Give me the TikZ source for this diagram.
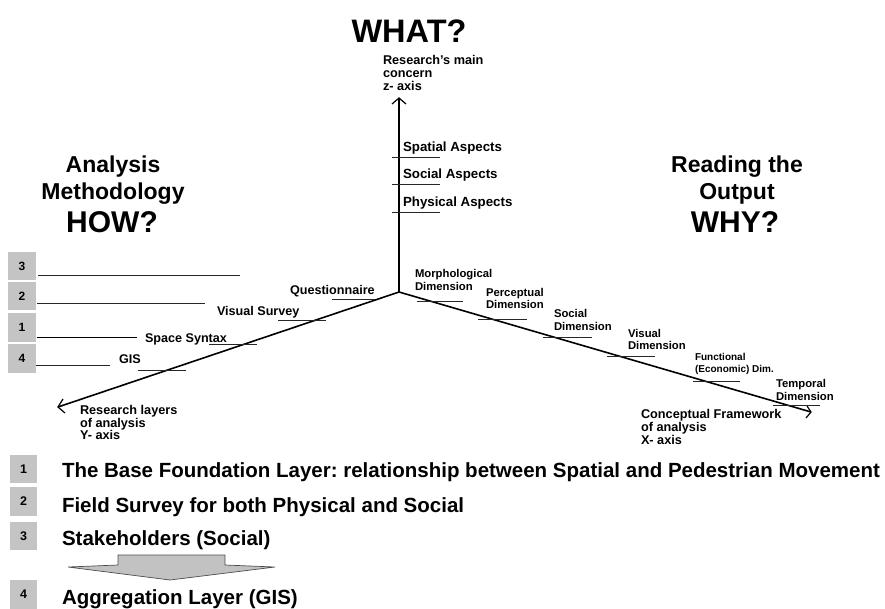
\documentclass[tikz,border=0pt]{standalone}
\usepackage{fontspec}
\setmainfont{Liberation Sans}
\frenchspacing
\definecolor{boxgray}{HTML}{C4C4C4}
\definecolor{arrowgray}{HTML}{C2C2C2}
\begin{document}
\begin{tikzpicture}[x=1pt,y=-1pt,
  every node/.style={inner sep=0pt, outer sep=0pt},
  hd/.style={font=\bfseries\fontsize{23}{25}\selectfont, anchor=base},
  big/.style={font=\bfseries\fontsize{30}{32}\selectfont, anchor=base},
  zl/.style={font=\bfseries\fontsize{13.3}{14}\selectfont, anchor=base west},
  yl/.style={font=\bfseries\fontsize{12.6}{13}\selectfont, anchor=base west},
  xl/.style={font=\bfseries\fontsize{11.3}{12.8}\selectfont, anchor=west, align=left},
  xs/.style={font=\bfseries\fontsize{10}{12.8}\selectfont, anchor=west, align=left},
  axl/.style={font=\bfseries\fontsize{12.7}{12.6}\selectfont, anchor=west, align=left},
  axisline/.style={line width=1.6pt},
  hook/.style={line width=1.2pt},
  tick/.style={line width=0.8pt, black!85},
  numbox/.style={fill=boxgray, minimum width=28pt, minimum height=28.5pt, font=\bfseries\fontsize{12}{12}\selectfont},
  legbox/.style={fill=boxgray, minimum width=27pt, minimum height=28.5pt, font=\bfseries\fontsize{12.5}{12.5}\selectfont},
  legend/.style={font=\bfseries\fontsize{20.5}{22}\selectfont, anchor=base west},
]
\useasboundingbox (0,0) rectangle (885,608);

% headings
\node[big, font=\bfseries\fontsize{32.5}{34}\selectfont] (what) at (409,42) {WHAT?};
\node[hd] (h1) at (113,172) {Analysis};
\node[hd] (h2) at (113,199) {Methodology};
\node[big] (how) at (112,232) {HOW?};
\node[hd] (r1) at (737,172) {Reading the};
\node[hd] (r2) at (737,199) {Output};
\node[big] (why) at (735,232) {WHY?};

% axes
\coordinate (O) at (399,292);
\coordinate (Zend) at (399,98);
\coordinate (Yend) at (58,407);
\coordinate (Xend) at (811,412);
\draw[axisline] (O) -- (Zend);
\draw[axisline] (O) -- (Yend);
\draw[axisline] (O) -- (Xend);
\draw[hook] (392,104) -- (Zend) -- (406,104);
\draw[hook] (63,399) -- (Yend) -- (65,413);
\draw[hook] (807,406) -- (Xend) -- (806,418);

% axis titles
\node[axl] (zt) at (383,73) {Research's main\\concern\\z- axis};
\node[axl] (yt) at (80,422.5) {Research layers\\of analysis\\Y- axis};
\node[axl] (xt) at (641,427) {Conceptual Framework\\of analysis\\X- axis};

% z ticks
\node[zl] (spa) at (403,151) {Spatial Aspects};
\node[zl] (soa) at (403,178.5) {Social Aspects};
\node[zl] (pha) at (403,206) {Physical Aspects};
\draw[tick] (392,157) -- (440,157);
\draw[tick] (392,184) -- (440,184);
\draw[tick] (392,212) -- (440,212);

% y ticks
\node[yl] (qu) at (290,294.5) {Questionnaire};
\node[yl] (vs) at (217,315.5) {Visual Survey};
\node[yl] (ss) at (145,342.5) {Space Syntax};
\node[yl] (gis) at (119,363.5) {GIS};
\draw[tick] (332,299) -- (375,299);
\draw[tick] (278,320) -- (326,320);
\draw[tick] (209,344) -- (257,344);
\draw[tick] (138,370) -- (186,370);

% x ticks
\node[xl] (mo) at (415,280) {Morphological\\Dimension};
\node[xl] (pe) at (486,298.5) {Perceptual\\Dimension};
\node[xl] (so) at (554,320) {Social\\Dimension};
\node[xl] (vi) at (628,339.5) {Visual\\Dimension};
\node[xs] (fu) at (695,364) {Functional\\(Economic) Dim.};
\node[xl] (te) at (776,390) {Temporal\\Dimension};
\draw[tick] (417,301) -- (463,301);
\draw[tick] (478,319) -- (527,319);
\draw[tick] (543,337) -- (592,337);
\draw[tick] (607,356) -- (655,356);
\draw[tick] (693,381) -- (740,381);
\draw[tick] (773,405) -- (820,405);

% left numbered boxes
\node[numbox] (b3) at (22,266) {3};
\node[numbox] (b2) at (22,296) {2};
\node[numbox] (b1) at (22,327.5) {1};
\node[numbox] (b4) at (22,358.5) {4};
\coordinate (l3) at (240,275);
\coordinate (l2) at (205,303);
\coordinate (l1) at (137,337);
\coordinate (l4) at (110,365);
\draw[tick] ([xshift=2pt]b3.east |- l3) -- (l3);
\draw[tick] ([xshift=1pt]b2.east |- l2) -- (l2);
\draw[tick, black] ([xshift=1pt]b1.east |- l1) -- (l1);
\draw[tick] ([xshift=0pt]b4.east |- l4) -- (l4);

% legend
\node[legbox] (g1) at (23.5,469) {1};
\node[legbox] (g2) at (23.5,501.5) {2};
\node[legbox] (g3) at (23.5,536) {3};
\node[legbox] (g4) at (23.5,594.5) {4};
\node[legend] (t1) at (62,477) {The Base Foundation Layer: relationship between Spatial and Pedestrian Movement};
\node[legend] (t2) at (62,512) {Field Survey for both Physical and Social};
\node[legend] (t3) at (62,545) {Stakeholders (Social)};
\node[legend] (t4) at (62,604) {Aggregation Layer (GIS)};

% block arrow
\draw[fill=arrowgray, draw=black!70, line width=0.7pt]
  (118,555) -- (225,555) -- (225,565) -- (275,567) -- (170,580) -- (68,567) -- (118,565) -- cycle;
\end{tikzpicture}
\end{document}
